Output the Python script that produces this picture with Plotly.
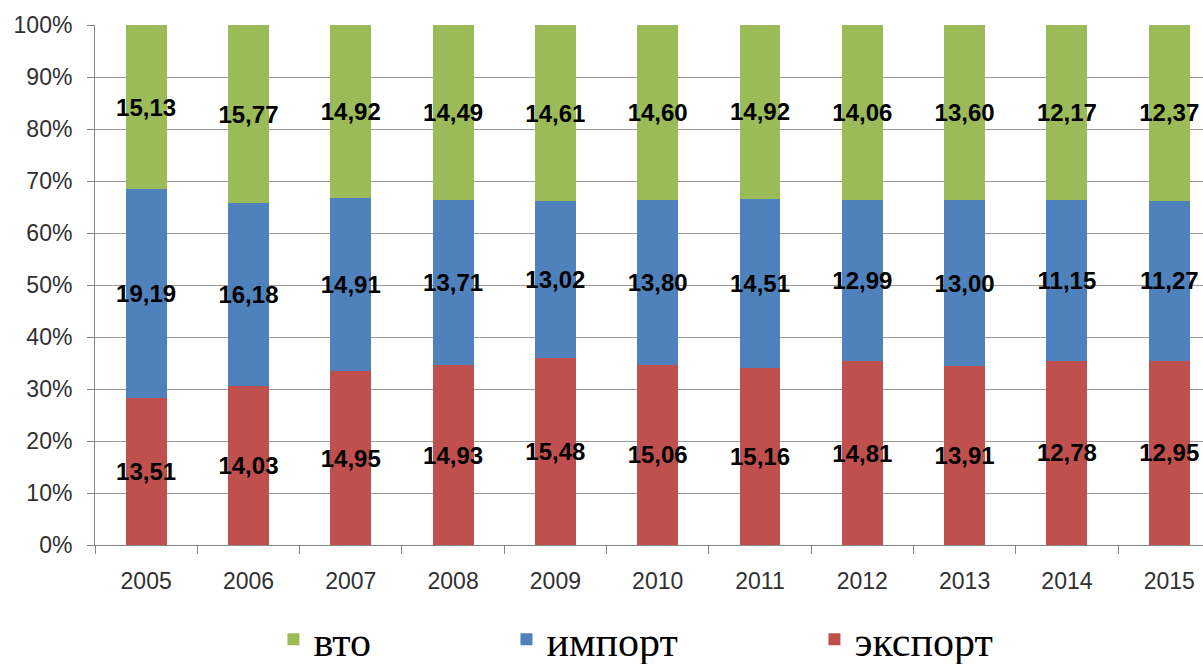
import plotly.graph_objects as go

years = ["2005", "2006", "2007", "2008", "2009", "2010", "2011", "2012", "2013", "2014", "2015"]
export_vals = [13.51, 14.03, 14.95, 14.93, 15.48, 15.06, 15.16, 14.81, 13.91, 12.78, 12.95]
import_vals = [19.19, 16.18, 14.91, 13.71, 13.02, 13.80, 14.51, 12.99, 13.00, 11.15, 11.27]
wto_vals = [15.13, 15.77, 14.92, 14.49, 14.61, 14.60, 14.92, 14.06, 13.60, 12.17, 12.37]

series = [
    ("экспорт", export_vals, "#C0504D", "legend3"),
    ("импорт", import_vals, "#4F81BD", "legend2"),
    ("вто", wto_vals, "#9BBB59", "legend"),
]

def fmt(v):
    return f"{v:.2f}".replace(".", ",")

fig = go.Figure()
for name, vals, color, leg in series:
    fig.add_trace(go.Bar(
        x=years, y=vals, name=name,
        marker=dict(color=color, line=dict(width=0)),
        text=[fmt(v) for v in vals],
        textposition="inside",
        insidetextanchor="middle",
        textangle=0,
        constraintext="none",
        textfont=dict(family="Liberation Sans", size=24, color="black", weight="bold"),
        legend=leg,
        hoverinfo="skip",
    ))

legend_common = dict(
    orientation="h",
    xref="container", yref="container",
    yanchor="middle", xanchor="left",
    y=0.037,
    font=dict(family="Liberation Serif", size=42, color="black"),
    bgcolor="rgba(0,0,0,0)",
    itemclick=False, itemdoubleclick=False,
)

fig.update_layout(
    width=1203, height=664,
    margin=dict(l=95, r=0, t=25, b=119, autoexpand=False),
    paper_bgcolor="white", plot_bgcolor="white",
    barmode="stack", barnorm="percent", bargap=0.6,
    showlegend=True,
    hovermode=False,
    legend=dict(legend_common, x=0.2273),
    legend2=dict(legend_common, x=0.4210),
    legend3=dict(legend_common, x=0.6770),
    xaxis=dict(
        type="category",
        range=[-0.5, 10.33],
        showline=True, linecolor="#868686", linewidth=1,
        ticks="outside", tickson="boundaries", ticklen=8, tickcolor="#868686",
        tickfont=dict(family="Liberation Sans", size=23, color="#303030"),
        showgrid=False,
        ticklabelstandoff=15,
    ),
    yaxis=dict(
        range=[0, 100], dtick=10, ticksuffix="%",
        showline=True, linecolor="#868686", linewidth=1,
        ticks="outside", ticklen=7, tickcolor="#868686",
        showgrid=True, gridcolor="#9A9A9A", gridwidth=1,
        zeroline=False,
        tickfont=dict(family="Liberation Sans", size=23, color="#303030"),
        ticklabelstandoff=10,
    ),
)

fig.write_html(
    "out.html",
    config={"displayModeBar": False},
    post_script="document.body.style.margin='0';document.body.style.overflow='hidden';",
)
